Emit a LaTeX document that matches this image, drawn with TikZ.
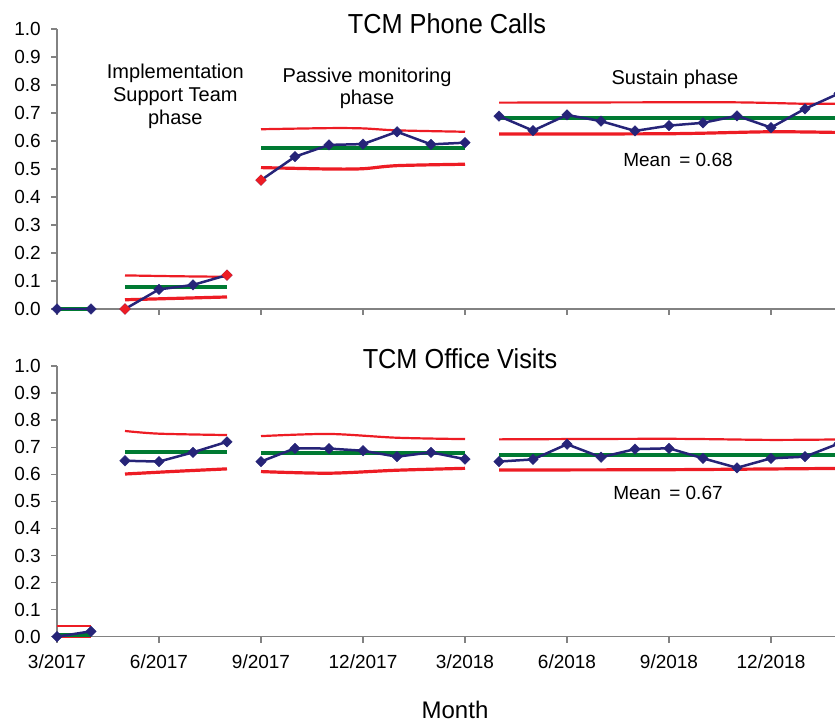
\documentclass[tikz,border=0pt]{standalone}
\usepackage{fontspec}
\setmainfont{Liberation Sans}
\usetikzlibrary{plotmarks}
\definecolor{cred}{RGB}{237,28,36}
\definecolor{cgreen}{RGB}{0,122,50}
\definecolor{cblue}{RGB}{38,36,120}
\definecolor{caxis}{RGB}{130,130,130}
\begin{document}
\begin{tikzpicture}[x=1pt,y=-1pt,
  ucl/.style={draw=cred, line width=2.2pt},
  lcl/.style={draw=cred, line width=3.2pt},
  meanl/.style={draw=cgreen, line width=4pt},
  series/.style={draw=cblue, line width=2.5pt, mark=square*, mark size=3.7pt,
     mark options={rotate=45, fill=cblue, draw=cblue, line width=0.4pt}},
  redpts/.style={only marks, mark=square*, mark size=3.7pt,
     mark options={rotate=45, fill=cred, draw=cred, line width=0.4pt}},
  axisl/.style={draw=caxis, line width=1.4pt},
  ticklab/.style={font=\fontsize{19}{22}\selectfont, inner sep=0pt},
  lab/.style={font=\fontsize{20}{23}\selectfont, inner sep=0pt, anchor=base},
  ttl/.style={font=\fontsize{27.5}{30}\selectfont, inner sep=0pt, anchor=base}]
\useasboundingbox (0,0) rectangle (835,723);
\clip (0,0) rectangle (835,723);

% ---------- titles and labels ----------
\node[ttl] (t1) at (447,33.3) {\scalebox{0.92}[1]{TCM Phone Calls}};
\node[ttl] (t2) at (460,368.3) {\scalebox{0.92}[1]{TCM Office Visits}};
\node[lab] (imp1) at (175.3,78.3) {Implementation};
\node[lab] (imp2) at (175.3,101.7) {Support Team};
\node[lab] (imp3) at (175.3,124.5) {phase};
\node[lab] (pas1) at (367,82.5) {Passive monitoring};
\node[lab] (pas2) at (367,104) {phase};
\node[lab] (sus) at (675,84) {Sustain phase};
\node[lab, font=\fontsize{19}{22}\selectfont] (m1) at (678,166) {Mean\, = 0.68};
\node[lab, font=\fontsize{19}{22}\selectfont] (m2) at (668,499) {Mean\, = 0.67};
\node[lab, font=\fontsize{24}{28}\selectfont] (month) at (455,718) {Month};

% ---------- axes ----------
\foreach \v [count=\i from 0] in {0.0,0.1,0.2,0.3,0.4,0.5,0.6,0.7,0.8,0.9,1.0} {
  \draw[axisl] (51,309-28*\i) -- (57,309-28*\i);
  \node[ticklab, anchor=east] (ya\i) at (41,309-28*\i) {\v};
  \draw[axisl] (51,636.7-27.07*\i) -- (57,636.7-27.07*\i);
  \node[ticklab, anchor=east] (yb\i) at (41,636.7-27.07*\i) {\v};
}
\draw[axisl] (57,29) -- (57,309) -- (835,309);
\draw[axisl] (57,366) -- (57,636.7) -- (835,636.7);
\foreach \k in {0,...,7} {
  \draw[axisl] (57+102*\k,309) -- (57+102*\k,315);
  \draw[axisl] (57+102*\k,636.7) -- (57+102*\k,643);
}
\foreach \t [count=\k from 0] in {3/2017,6/2017,9/2017,12/2017,3/2018,6/2018,9/2018,12/2018} {
  \node[ticklab, anchor=base] (xl\k) at (57+102*\k,668) {\t};
}

% ---------- top chart ----------
\begin{scope}[shift={(57,309)}, x=34pt, y=280pt]
  \draw[meanl] (0,0) -- (1,0);
  \draw[ucl] plot[smooth] coordinates {(2,0.120) (3.5,0.117) (5,0.115)};
  \draw[meanl] (2,0.077) -- (5,0.077);
  \draw[lcl] plot[smooth] coordinates {(2,0.033) (3.5,0.038) (5,0.043)};
  \draw[ucl] plot[smooth] coordinates {(6,0.642) (8,0.646) (9,0.645) (10,0.638) (12,0.633)};
  \draw[meanl] (6,0.574) -- (12,0.574);
  \draw[lcl] plot[smooth] coordinates {(6,0.505) (8,0.500) (9,0.501) (10,0.512) (12,0.517)};
  \draw[ucl] plot[smooth] coordinates {(13,0.737) (17,0.738) (20,0.738) (22,0.733) (23.2,0.733)};
  \draw[meanl] (13,0.683) -- (23.2,0.683);
  \draw[lcl] plot[smooth] coordinates {(13,0.625) (18,0.626) (21,0.633) (23.2,0.630)};
  \draw[series] plot coordinates {(0,0) (1,0)};
  \draw[series] plot coordinates {(2,0) (3,0.070) (4,0.086) (5,0.121)};
  \draw[series] plot coordinates {(6,0.46) (7,0.544) (8,0.586) (9,0.589) (10,0.633) (11,0.588) (12,0.594)};
  \draw[series] plot coordinates {(13,0.689) (14,0.637) (15,0.693) (16,0.671) (17,0.636) (18,0.655) (19,0.665) (20,0.690) (21,0.648) (22,0.715) (23,0.770)};
  \draw plot[redpts] coordinates {(2,0) (5,0.121) (6,0.46)};
\end{scope}

% ---------- bottom chart ----------
\begin{scope}[shift={(57,636.7)}, x=34pt, y=270.7pt]
  \draw[ucl] (0,0.04) -- (1,0.04);
  \draw[ucl] (0,0.0) -- (1,0.0);
  \draw[meanl] (0,0.008) -- (1,0.008);
  \draw[ucl] plot[smooth] coordinates {(2,0.760) (3,0.750) (5,0.745)};
  \draw[meanl] (2,0.681) -- (5,0.681);
  \draw[lcl] plot[smooth] coordinates {(2,0.601) (3.5,0.611) (5,0.620)};
  \draw[ucl] plot[smooth] coordinates {(6,0.741) (8,0.749) (10,0.735) (12,0.730)};
  \draw[meanl] (6,0.677) -- (12,0.677);
  \draw[lcl] plot[smooth] coordinates {(6,0.610) (8,0.604) (10,0.615) (12,0.622)};
  \draw[ucl] plot[smooth] coordinates {(13,0.729) (18,0.731) (21,0.727) (23.2,0.729)};
  \draw[meanl] (13,0.671) -- (23.2,0.671);
  \draw[lcl] plot[smooth] coordinates {(13,0.616) (18,0.617) (23.2,0.622)};
  \draw[series] plot coordinates {(0,0) (1,0.02)};
  \draw[series] plot coordinates {(2,0.650) (3,0.647) (4,0.681) (5,0.720)};
  \draw[series] plot coordinates {(6,0.647) (7,0.696) (8,0.695) (9,0.687) (10,0.665) (11,0.681) (12,0.656)};
  \draw[series] plot coordinates {(13,0.647) (14,0.655) (15,0.711) (16,0.663) (17,0.693) (18,0.696) (19,0.659) (20,0.624) (21,0.659) (22,0.665) (23,0.714)};
\end{scope}
\end{tikzpicture}
\end{document}
